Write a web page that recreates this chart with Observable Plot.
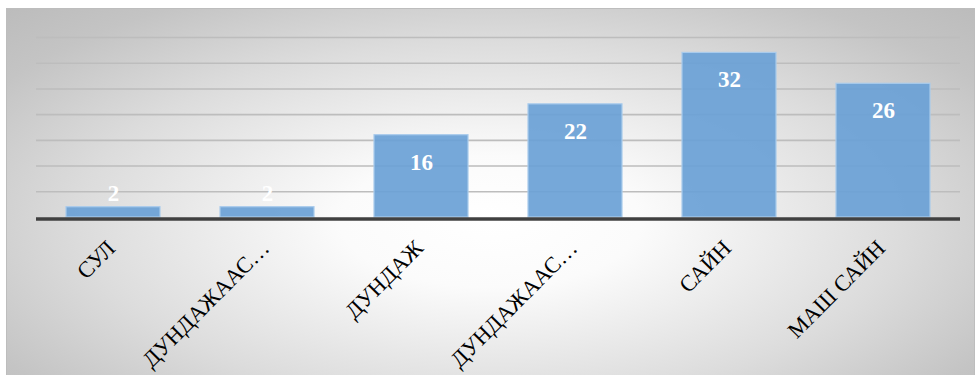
<!DOCTYPE html>
<html>
<head>
<meta charset="utf-8">
<script src="https://cdn.jsdelivr.net/npm/d3@7"></script>
<script src="https://cdn.jsdelivr.net/npm/@observablehq/plot@0.6"></script>
<style>
  html, body { margin: 0; padding: 0; background: #ffffff; }
  #wrap { position: relative; width: 980px; height: 375px; overflow: hidden; background: #ffffff; }
  #bg {
    position: absolute; left: 6px; top: 8px; width: 969px; height: 367px;
    box-sizing: border-box; border: 1px solid #bdbdbd; border-bottom: none;
    background: radial-gradient(ellipse at 50% 58%, #ffffff 0%, #fbfbfb 22%, #dcdcdc 60%, #c4c4c4 85%, #bcbcbc 100%);
  }
  #chart { position: absolute; left: 0; top: 0; }
</style>
</head>
<body>
<div id="wrap"><div id="bg"></div><div id="chart"></div></div>
<script>
const categories = ["СУЛ", "ДУНДАЖААС ДООШ", "ДУНДАЖ", "ДУНДАЖААС ДЭЭШ", "САЙН", "МАШ САЙН"];
const tickLabels = ["СУЛ", "ДУНДАЖААС…", "ДУНДАЖ", "ДУНДАЖААС…", "САЙН", "МАШ САЙН"];
const values = [2, 2, 16, 22, 32, 26];
const gridTicks = [5, 10, 15, 20, 25, 30, 35];

const data = categories.map((c, i) => ({category: c, value: values[i]}));
const serif = "'Liberation Serif', 'Times New Roman', serif";
const labelStyle = {
  x: "category", y: "value", text: d => String(d.value),
  fill: "#ffffff", fontWeight: "bold", fontSize: 23, fontFamily: serif,
  lineAnchor: "middle"
};

const chart = Plot.plot({
  width: 980,
  height: 375,
  marginLeft: 36,
  marginRight: 20,
  marginTop: 37,
  marginBottom: 158,
  style: {background: "transparent", fontFamily: serif, overflow: "visible"},
  x: {domain: categories, paddingInner: 0.39, paddingOuter: 0.195, label: null},
  y: {domain: [0, 35], axis: null},
  marks: [
    Plot.ruleY(gridTicks, {stroke: "#bdbdbd", strokeWidth: 1.6}),
    Plot.barY(data, {x: "category", y: "value", fill: "#6aa1d6", fillOpacity: 0.92, stroke: "#a9cbec", strokeWidth: 1.2}),
    Plot.ruleY([0], {stroke: "#404040", strokeWidth: 3.5, dy: 1.5}),
    Plot.text(data.filter(d => d.value >= 5), {...labelStyle, dy: 27}),
    Plot.text(data.filter(d => d.value < 5), {...labelStyle, dy: -14}),
    Plot.axisX({
      tickSize: 0, tickPadding: 27, tickRotate: -45,
      tickFormat: d => tickLabels[categories.indexOf(d)],
      fontSize: 22.5, fontFamily: serif, fill: "#000000", label: null, dx: -2
    })
  ]
});
document.getElementById("chart").appendChild(chart);
</script>
</body>
</html>
